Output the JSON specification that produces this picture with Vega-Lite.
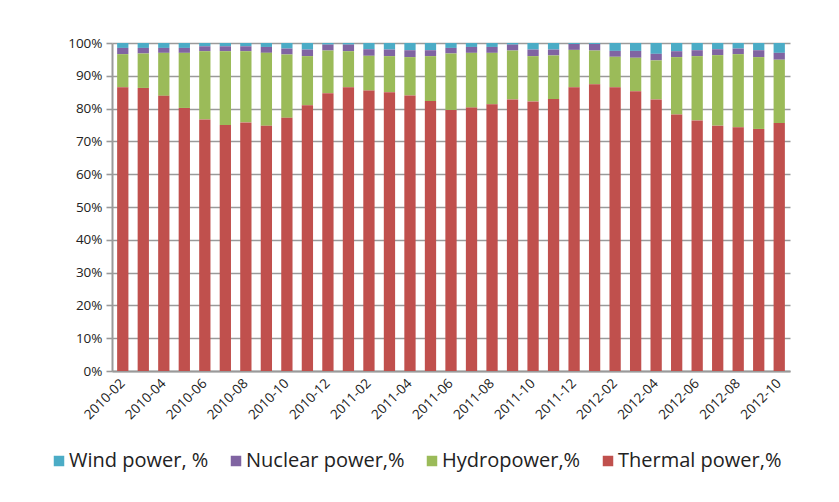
{
  "$schema": "https://vega.github.io/schema/vega-lite/v6.json",
  "autosize": {"type": "none"},
  "width": 678,
  "height": 328,
  "padding": {"left": 112, "top": 43, "right": 49, "bottom": 131},
  "background": "white",
  "data": {
    "values": [
      {"m": "2010-02", "Wind power, %": 1.5, "Nuclear power,%": 1.9, "Hydropower,%": 10.1, "Thermal power,%": 86.5},
      {"m": "2010-03", "Wind power, %": 1.5, "Nuclear power,%": 1.7, "Hydropower,%": 10.5, "Thermal power,%": 86.3},
      {"m": "2010-04", "Wind power, %": 1.5, "Nuclear power,%": 1.5, "Hydropower,%": 13.1, "Thermal power,%": 83.9},
      {"m": "2010-05", "Wind power, %": 1.5, "Nuclear power,%": 1.5, "Hydropower,%": 16.8, "Thermal power,%": 80.2},
      {"m": "2010-06", "Wind power, %": 1.0, "Nuclear power,%": 1.5, "Hydropower,%": 20.8, "Thermal power,%": 76.7},
      {"m": "2010-07", "Wind power, %": 1.0, "Nuclear power,%": 1.5, "Hydropower,%": 22.5, "Thermal power,%": 75.0},
      {"m": "2010-08", "Wind power, %": 1.0, "Nuclear power,%": 1.5, "Hydropower,%": 21.7, "Thermal power,%": 75.8},
      {"m": "2010-09", "Wind power, %": 1.2, "Nuclear power,%": 1.8, "Hydropower,%": 22.2, "Thermal power,%": 74.8},
      {"m": "2010-10", "Wind power, %": 1.7, "Nuclear power,%": 1.8, "Hydropower,%": 19.3, "Thermal power,%": 77.2},
      {"m": "2010-11", "Wind power, %": 2.0, "Nuclear power,%": 2.0, "Hydropower,%": 15.0, "Thermal power,%": 81.0},
      {"m": "2010-12", "Wind power, %": 0.5, "Nuclear power,%": 1.8, "Hydropower,%": 13.0, "Thermal power,%": 84.7},
      {"m": "2011-01", "Wind power, %": 0.5, "Nuclear power,%": 2.0, "Hydropower,%": 11.0, "Thermal power,%": 86.5},
      {"m": "2011-02", "Wind power, %": 1.9, "Nuclear power,%": 2.0, "Hydropower,%": 10.6, "Thermal power,%": 85.5},
      {"m": "2011-03", "Wind power, %": 2.0, "Nuclear power,%": 2.0, "Hydropower,%": 11.0, "Thermal power,%": 85.0},
      {"m": "2011-04", "Wind power, %": 2.2, "Nuclear power,%": 2.1, "Hydropower,%": 11.7, "Thermal power,%": 84.0},
      {"m": "2011-05", "Wind power, %": 2.2, "Nuclear power,%": 1.8, "Hydropower,%": 13.7, "Thermal power,%": 82.3},
      {"m": "2011-06", "Wind power, %": 1.5, "Nuclear power,%": 1.7, "Hydropower,%": 17.2, "Thermal power,%": 79.6},
      {"m": "2011-07", "Wind power, %": 1.2, "Nuclear power,%": 1.8, "Hydropower,%": 16.7, "Thermal power,%": 80.3},
      {"m": "2011-08", "Wind power, %": 1.2, "Nuclear power,%": 1.8, "Hydropower,%": 15.7, "Thermal power,%": 81.3},
      {"m": "2011-09", "Wind power, %": 0.5, "Nuclear power,%": 1.8, "Hydropower,%": 14.9, "Thermal power,%": 82.8},
      {"m": "2011-10", "Wind power, %": 2.0, "Nuclear power,%": 2.0, "Hydropower,%": 13.8, "Thermal power,%": 82.2},
      {"m": "2011-11", "Wind power, %": 2.0, "Nuclear power,%": 1.8, "Hydropower,%": 13.3, "Thermal power,%": 82.9},
      {"m": "2011-12", "Wind power, %": 0.3, "Nuclear power,%": 1.8, "Hydropower,%": 11.4, "Thermal power,%": 86.5},
      {"m": "2012-01", "Wind power, %": 0.3, "Nuclear power,%": 2.0, "Hydropower,%": 10.3, "Thermal power,%": 87.4},
      {"m": "2012-02", "Wind power, %": 2.4, "Nuclear power,%": 1.8, "Hydropower,%": 9.3, "Thermal power,%": 86.5},
      {"m": "2012-03", "Wind power, %": 2.4, "Nuclear power,%": 2.1, "Hydropower,%": 10.2, "Thermal power,%": 85.3},
      {"m": "2012-04", "Wind power, %": 3.3, "Nuclear power,%": 2.0, "Hydropower,%": 11.9, "Thermal power,%": 82.8},
      {"m": "2012-05", "Wind power, %": 2.5, "Nuclear power,%": 1.8, "Hydropower,%": 17.5, "Thermal power,%": 78.2},
      {"m": "2012-06", "Wind power, %": 2.2, "Nuclear power,%": 1.8, "Hydropower,%": 19.6, "Thermal power,%": 76.4},
      {"m": "2012-07", "Wind power, %": 1.9, "Nuclear power,%": 1.8, "Hydropower,%": 21.5, "Thermal power,%": 74.8},
      {"m": "2012-08", "Wind power, %": 1.7, "Nuclear power,%": 1.7, "Hydropower,%": 22.3, "Thermal power,%": 74.3},
      {"m": "2012-09", "Wind power, %": 2.2, "Nuclear power,%": 2.1, "Hydropower,%": 21.9, "Thermal power,%": 73.8},
      {"m": "2012-10", "Wind power, %": 3.0, "Nuclear power,%": 2.1, "Hydropower,%": 19.3, "Thermal power,%": 75.6}
    ]
  },
  "transform": [
    {"fold": ["Wind power, %", "Nuclear power,%", "Hydropower,%", "Thermal power,%"], "as": ["source", "share"]},
    {"calculate": "indexof(['Thermal power,%','Hydropower,%','Nuclear power,%','Wind power, %'], datum.source)", "as": "ord"}
  ],
  "mark": {"type": "bar", "stroke": null},
  "encoding": {
    "x": {
      "field": "m", "type": "ordinal",
      "scale": {"paddingInner": 0.45, "paddingOuter": 0.25},
      "axis": {
        "title": null,
        "values": ["2010-02","2010-04","2010-06","2010-08","2010-10","2010-12","2011-02","2011-04","2011-06","2011-08","2011-10","2011-12","2012-02","2012-04","2012-06","2012-08","2012-10"],
        "labelAngle": -45, "labelAlign": "right", "labelBaseline": "middle",
        "labelFont": "Open Sans", "labelFontSize": 13.5, "labelColor": "#222222",
        "labelPadding": 10, "labelOverlap": false,
        "domainColor": "#9a9a9a", "domainWidth": 2,
        "ticks": false
      }
    },
    "y": {
      "field": "share", "type": "quantitative",
      "stack": "normalize",
      "scale": {"domain": [0, 1], "nice": false},
      "axis": {
        "title": null, "format": ".0%",
        "values": [0, 0.1, 0.2, 0.3, 0.4, 0.5, 0.6, 0.7, 0.8, 0.9, 1],
        "labelOverlap": false,
        "labelFont": "Open Sans", "labelFontSize": 13.5, "labelColor": "#222222",
        "labelPadding": 4,
        "grid": true, "gridColor": "#9a9a9a", "gridWidth": 1.6,
        "domainColor": "#9a9a9a", "domainWidth": 2,
        "tickColor": "#9a9a9a", "tickWidth": 1.6, "tickSize": 6
      }
    },
    "color": {
      "field": "source", "type": "nominal",
      "scale": {
        "domain": ["Wind power, %", "Nuclear power,%", "Hydropower,%", "Thermal power,%"],
        "range": ["#4BACC6", "#8064A2", "#9BBB59", "#C0504D"]
      },
      "legend": {
        "title": null, "orient": "none", "direction": "horizontal", "columns": 4,
        "legendX": -63, "legendY": 408,
        "symbolType": "square", "symbolSize": 110, "symbolStrokeWidth": 0,
        "labelFont": "Open Sans", "labelFontSize": 20, "labelColor": "#222222",
        "labelOffset": 0, "columnPadding": 17, "labelLimit": 400
      }
    },
    "order": {"field": "ord", "type": "quantitative"}
  },
  "config": {"view": {"stroke": null}}
}
